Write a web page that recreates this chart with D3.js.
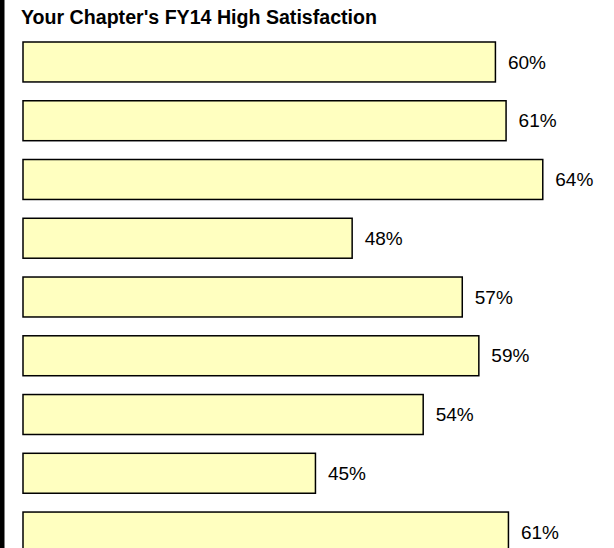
<!DOCTYPE html>
<html>
<head>
<meta charset="utf-8">
<script src="https://cdn.jsdelivr.net/npm/d3@7"></script>
<style>
  body { margin: 0; background: #fff; }
  .titulo { font-family: "Liberation Sans", Arial, sans-serif; font-weight: bold; font-size: 19.6px; fill: #000; }
  .etiqueta { font-family: "Liberation Sans", Arial, sans-serif; font-size: 19px; fill: #000; }
</style>
</head>
<body>
<div id="graf"></div>
<script>
// datos (sin nombres de categoria visibles)
const items = ["r1", "r2", "r3", "r4", "r5", "r6", "r7", "r8", "r9"]
const valores = [59.9, 60.8, 63.9, 47.8, 57.1, 58.5, 53.8, 44.7, 61.0]
const etiquetas = ["60%", "61%", "64%", "48%", "57%", "59%", "54%", "45%", "61%"]
const titulo = "Your Chapter's FY14 High Satisfaction"

const anchoTotal = 614
const altoTotal = 548

const svg = d3.select("#graf")
  .append("svg")
  .attr("width", anchoTotal)
  .attr("height", altoTotal)

// franja negra a la izquierda
svg.append("rect")
  .attr("x", 0)
  .attr("y", 0)
  .attr("width", 4.5)
  .attr("height", altoTotal)
  .attr("fill", "#000")

svg.append("text")
  .attr("x", 21)
  .attr("y", 24)
  .attr("class", "titulo")
  .text(titulo)

const x = d3.scaleLinear().domain([20, 70]).range([23, 615])
const y = d3.scaleBand().domain(items).range([42, 552]).paddingInner(0.32).paddingOuter(0)

const data = items.map((d, i) => ({ id: d, value: valores[i], label: etiquetas[i] }))

svg.selectAll("rect.barra").data(data)
  .enter()
  .append("rect")
  .attr("class", "barra")
  .attr("x", x(20))
  .attr("y", (d) => y(d.id))
  .attr("width", (d) => x(d.value) - x(20))
  .attr("height", y.bandwidth())
  .attr("fill", "#ffffc0")
  .attr("stroke", "#000")
  .attr("stroke-width", 1.5)

svg.selectAll("text.etiqueta").data(data)
  .enter()
  .append("text")
  .attr("class", "etiqueta")
  .attr("x", (d) => x(d.value) + 12.5)
  .attr("y", (d) => y(d.id) + y.bandwidth() / 2)
  .attr("dy", "0.35em")
  .text((d) => d.label)
</script>
</body>
</html>
